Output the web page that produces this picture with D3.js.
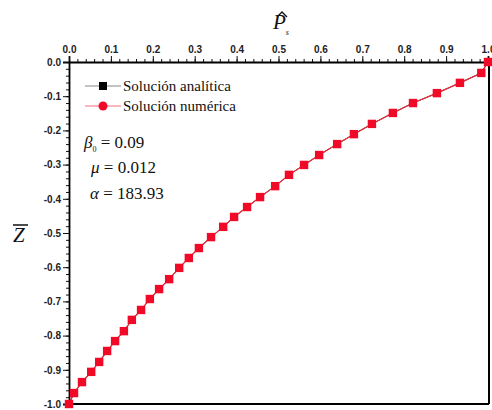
<!DOCTYPE html>
<html>
<head>
<meta charset="utf-8">
<script src="https://cdn.jsdelivr.net/npm/d3@7"></script>
<style>
body { margin:0; background:#fff; }
.tick text { font-family: "Liberation Sans", Arial, sans-serif; font-weight:bold; font-size:10px; fill:#222; }
text.serif, text.serif tspan { font-family: "Liberation Serif", "Times New Roman", serif; fill:#111; }
</style>
</head>
<body>
<div class="chart"></div>
<script>
const margin = {top:62, left:69, right:3, bottom:6};
const width = 492 - margin.left - margin.right,
height = 410 - margin.top - margin.bottom;

// P_s values (x) and Z values (y)
const pValues = [0.0, 0.012, 0.031, 0.053, 0.072, 0.091, 0.110, 0.131, 0.150, 0.172,
    0.193, 0.215, 0.239, 0.263, 0.286, 0.310, 0.339, 0.368, 0.394, 0.425,
    0.456, 0.492, 0.525, 0.561, 0.597, 0.640, 0.680, 0.723, 0.773, 0.821,
    0.878, 0.933, 0.984, 1.0];
const zAnalitica = [-1.0, -0.968, -0.936, -0.906, -0.877, -0.845, -0.816, -0.787, -0.754, -0.725,
    -0.693, -0.664, -0.635, -0.602, -0.573, -0.544, -0.512, -0.482, -0.453, -0.424,
    -0.395, -0.363, -0.330, -0.301, -0.272, -0.240, -0.211, -0.181, -0.149, -0.120,
    -0.091, -0.061, -0.032, 0.0];
const zNumerica = zAnalitica.slice();
const xTicks = [0, 0.1, 0.2, 0.3, 0.4, 0.5, 0.6, 0.7, 0.8, 0.9, 1.0];
const yTicks = [0, -0.1, -0.2, -0.3, -0.4, -0.5, -0.6, -0.7, -0.8, -0.9, -1.0];

const svg = d3.select('.chart')
    .append('svg')
    .attr('width', 492)
    .attr('height', 410)
    .append("g")
    .attr("transform", "translate(" + margin.left + "," + margin.top + ")");

const xScale = d3.scaleLinear().domain([0, 1]).range([0, width - 1]);
const yScale = d3.scaleLinear().domain([-1, 0]).range([height, 0]);

// minor ticks
svg.append("g")
    .attr("class", "axis")
    .call(d3.axisTop(xScale).ticks(50).tickSize(3).tickFormat(""))
    .select(".domain").remove();
svg.append("g")
    .attr("class", "axis")
    .call(d3.axisLeft(yScale).ticks(50).tickSize(3).tickFormat(""))
    .select(".domain").remove();

const xAxis = d3.axisTop(xScale).tickValues(xTicks).tickSize(6).tickPadding(3).tickFormat(d3.format(".1f"));
const yAxis = d3.axisLeft(yScale).tickValues(yTicks).tickSize(6).tickPadding(2).tickFormat(d => d3.format(".1f")(d).replace("−", "-"));

svg.append("g").attr("class", "axis x-axis").call(xAxis);
svg.append("g").attr("class", "axis y-axis").call(yAxis);
svg.selectAll(".axis .domain").attr("stroke-width", 1.8);
svg.selectAll(".axis line").attr("stroke", "#111");

// frame
svg.append("line").attr("x1", 0).attr("x2", width).attr("y1", height).attr("y2", height)
    .attr("stroke", "#000").attr("stroke-width", 2);
svg.append("line").attr("x1", width).attr("x2", width).attr("y1", 0).attr("y2", height)
    .attr("stroke", "#000").attr("stroke-width", 2);

const line = d3.line().x((d, i) => xScale(pValues[i])).y(d => yScale(d));

svg.append("path").datum(zAnalitica)
    .attr("d", line).attr("fill", "none").attr("stroke", "#000").attr("stroke-width", 1);
svg.append("path").datum(zNumerica)
    .attr("d", line).attr("fill", "none").attr("stroke", "#f0303c").attr("stroke-width", 1.2);

svg.selectAll(".pt-a").data(zAnalitica).enter().append("rect")
    .attr("class", "pt-a")
    .attr("x", (d, i) => xScale(pValues[i]) - 3.5)
    .attr("y", d => yScale(d) - 3.5)
    .attr("width", 7).attr("height", 7)
    .attr("fill", "#000");
svg.selectAll(".pt-n").data(zNumerica).enter().append("rect")
    .attr("class", "pt-n")
    .attr("x", (d, i) => xScale(pValues[i]) - 4.2)
    .attr("y", d => yScale(d) - 4.2)
    .attr("width", 8.4).attr("height", 8.4)
    .attr("fill", "#f00a28");

// legend
const legend = svg.append("g").attr("transform", "translate(16, 24)");
legend.append("line").attr("x1", 0).attr("x2", 36).attr("y1", 0).attr("y2", 0).attr("stroke", "#888");
legend.append("rect").attr("x", 14).attr("y", -4).attr("width", 8).attr("height", 8).attr("fill", "#000");
legend.append("text").attr("class", "serif").attr("x", 38).attr("y", 5).style("font-size", "15px").text("Solución analítica");
legend.append("line").attr("x1", 0).attr("x2", 36).attr("y1", 20).attr("y2", 20).attr("stroke", "#f27080");
legend.append("circle").attr("cx", 18).attr("cy", 20).attr("r", 4.5).attr("fill", "#f00a28");
legend.append("text").attr("class", "serif").attr("x", 38).attr("y", 25).style("font-size", "15px").text("Solución numérica");

// parameters
const serif = '"Liberation Serif", "Times New Roman", serif';
const params = svg.append("g");
const p1 = params.append("text").attr("class", "serif").attr("x", 15).attr("y", 86)
    .style("font-family", serif).style("font-size", "17px");
p1.append("tspan").style("font-style", "italic").text("β");
p1.append("tspan").attr("dy", 4).style("font-size", "8px").text("0");
p1.append("tspan").attr("dy", -4).text(" = 0.09");
const p2 = params.append("text").attr("class", "serif").attr("x", 22).attr("y", 111)
    .style("font-family", serif).style("font-size", "17px");
p2.append("tspan").style("font-style", "italic").text("μ");
p2.append("tspan").text(" = 0.012");
const p3 = params.append("text").attr("class", "serif").attr("x", 21).attr("y", 137)
    .style("font-family", serif).style("font-size", "17px");
p3.append("tspan").style("font-style", "italic").text("α");
p3.append("tspan").text(" = 183.93");

// axis titles
const xt = svg.append("text").attr("class", "serif")
    .attr("x", 204).attr("y", -33).style("font-family", serif)
    .style("font-size", "21px").style("font-style", "italic");
xt.append("tspan").text("P");
xt.append("tspan").attr("dy", 6).style("font-size", "8px").text("s");
svg.append("path")
    .attr("d", "M208,-45 L213,-50 L218,-45")
    .attr("fill", "none").attr("stroke", "#111").attr("stroke-width", 1.4);

svg.append("text").attr("class", "serif")
    .attr("x", -56).attr("y", 180).style("font-family", serif)
    .style("font-size", "21px").style("font-style", "italic").text("Z");
svg.append("line").attr("x1", -56).attr("x2", -41).attr("y1", 163).attr("y2", 163)
    .attr("stroke", "#111").attr("stroke-width", 1.5);
</script>
</body>
</html>
